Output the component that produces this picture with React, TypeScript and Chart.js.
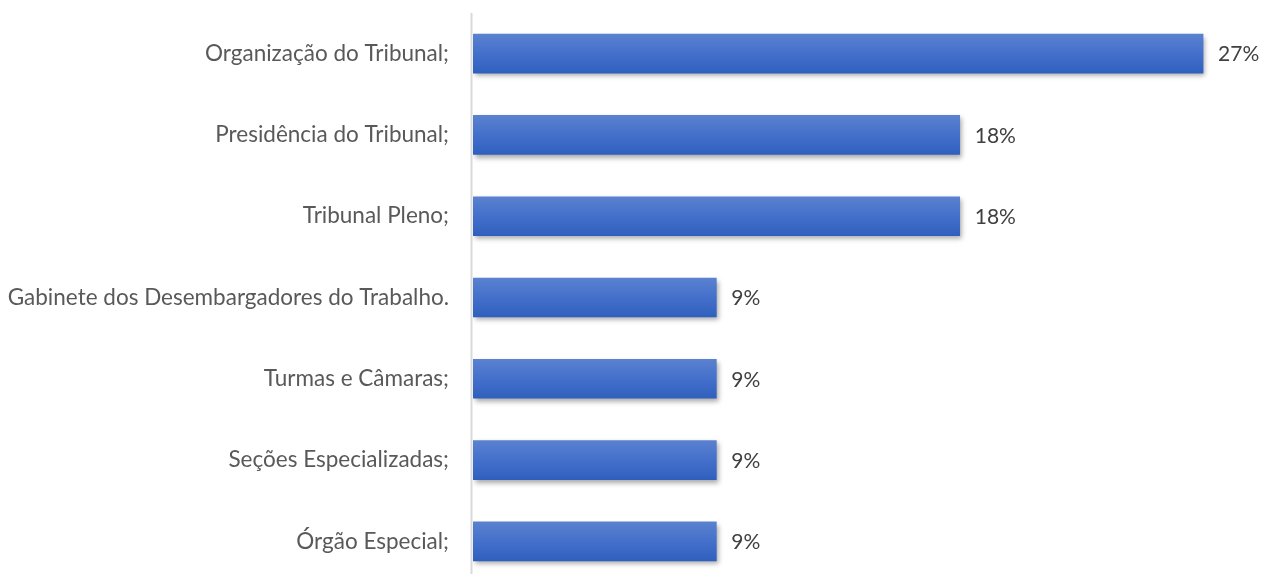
import React, { useEffect, useRef } from "react";
import { Chart, registerables } from "chart.js";

Chart.register(...registerables);

const categories = [
  "Organização do Tribunal;",
  "Presidência do Tribunal;",
  "Tribunal Pleno;",
  "Gabinete dos Desembargadores do Trabalho.",
  "Turmas e Câmaras;",
  "Seções Especializadas;",
  "Órgão Especial;",
];
const values = [27, 18, 18, 9, 9, 9, 9];
const valueLabels = ["27%", "18%", "18%", "9%", "9%", "9%", "9%"];

const FONT = "Lato";

export default function App() {
  const ref = useRef<HTMLCanvasElement | null>(null);
  useEffect(() => {
    if (!ref.current) return;
    const shadowPlugin = {
      id: "shadow",
      beforeDatasetsDraw(chart: any) {
        const ctx = chart.ctx;
        ctx.save();
        ctx.shadowColor = "rgba(0,0,0,0.35)";
        ctx.shadowBlur = 5;
        ctx.shadowOffsetX = 2;
        ctx.shadowOffsetY = 3;
      },
      afterDatasetsDraw(chart: any) {
        const ctx = chart.ctx;
        ctx.restore();
        const meta = chart.getDatasetMeta(0);
        ctx.save();
        ctx.font = `21px ${FONT}`;
        ctx.fillStyle = "#404040";
        ctx.textAlign = "left";
        ctx.textBaseline = "middle";
        meta.data.forEach((bar: any, i: number) => {
          ctx.fillText(valueLabels[i], bar.x + 15, bar.y + 1);
        });
        ctx.restore();
      },
      beforeDraw(chart: any) {
        const ctx = chart.ctx;
        const { chartArea } = chart;
        ctx.save();
        ctx.strokeStyle = "#d9d9d9";
        ctx.lineWidth = 2;
        ctx.beginPath();
        ctx.moveTo(chartArea.left - 1.5, chartArea.top);
        ctx.lineTo(chartArea.left - 1.5, chartArea.bottom);
        ctx.stroke();
        ctx.restore();
      },
    };
    const chart = new Chart(ref.current, {
      type: "bar",
      data: {
        labels: categories,
        datasets: [
          {
            data: values,
            backgroundColor: (c: any) => {
              const ch = c.chart;
              const y = ch.scales && ch.scales.y;
              if (!ch.chartArea || !y || c.dataIndex === undefined) return "#4472c4";
              const cy = y.getPixelForValue(c.dataIndex);
              const g = ch.ctx.createLinearGradient(0, cy - 20, 0, cy + 20);
              g.addColorStop(0, "#5b82d0");
              g.addColorStop(0.5, "#4470cb");
              g.addColorStop(1, "#2f5fbd");
              return g;
            },
            borderWidth: 0,
            barThickness: 39,
          },
        ],
      },
      options: {
        indexAxis: "y",
        animation: false,
        responsive: false,
        layout: { padding: { top: 5, right: 8, bottom: 0, left: 0 } },
        plugins: { legend: { display: false }, tooltip: { enabled: false } },
        scales: {
          x: { display: false, min: 0, max: 28.92 },
          y: {
            grid: { display: false, drawTicks: false },
            border: { display: false },
            ticks: {
              color: "#595959",
              font: { family: FONT, size: 22.5 },
              padding: 24,
            },
            afterFit(scale: any) {
              scale.width = 465;
              scale.paddingTop = 0;
              scale.paddingBottom = 0;
            },
          },
        },
      },
      plugins: [shadowPlugin],
    });
    return () => chart.destroy();
  }, []);
  return (
    <div style={{ position: "absolute", left: 8, top: 8, width: 1255, height: 574, overflow: "hidden" }}>
      <canvas ref={ref} width={1255} height={574} style={{ display: "block", width: 1255, height: 574 }} />
    </div>
  );
}
